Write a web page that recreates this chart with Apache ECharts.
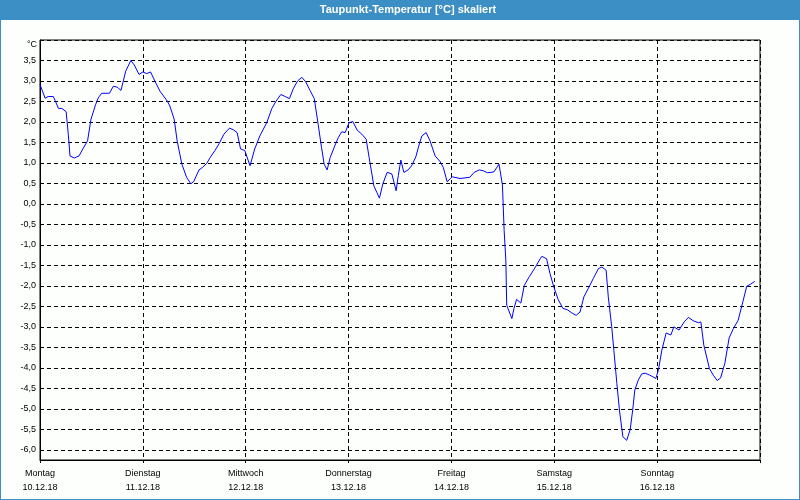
<!DOCTYPE html>
<html>
<head>
<meta charset="utf-8">
<script src="https://cdn.jsdelivr.net/npm/echarts@6/dist/echarts.min.js"></script>
<style>
html,body{margin:0;padding:0;background:#fff;}
#chart{width:800px;height:500px;}
</style>
</head>
<body>
<div id="chart"></div>
<script>
const chartTitle = 'Taupunkt-Temperatur [°C] skaliert';
const yUnit = '°C';
const weekdays = ['Montag','Dienstag','Mittwoch','Donnerstag','Freitag','Samstag','Sonntag'];
const dates = ['10.12.18','11.12.18','12.12.18','13.12.18','14.12.18','15.12.18','16.12.18'];
// hours since 10.12.18 00:00
const hours = [0,1.2,1.9,3.1,3.5,4.3,5.1,6.1,6.6,7.0,8.0,9.1,10.1,11.1,11.9,13.0,13.6,14.4,16.2,17.1,18.0,18.9,20.0,21.2,22.0,23.1,24.0,24.9,25.8,26.8,28.0,29.7,30.3,31.3,32.0,33.1,34.2,35.2,35.9,37.1,37.9,38.9,39.7,40.8,41.8,42.9,44.2,45.1,46.0,46.8,47.8,49.0,50.1,51.3,52.9,54.1,55.1,56.2,57.2,58.2,59.1,60.1,61.1,62.0,63.0,64.0,64.9,65.7,66.3,67.0,67.7,68.8,69.6,70.4,71.2,72.1,73.0,74.0,75.1,76.1,76.8,77.9,78.6,79.2,80.0,81.0,82.1,83.1,83.6,84.2,84.9,85.9,86.7,87.7,88.5,89.1,90.1,91.0,92.2,93.3,94.1,95.0,95.7,96.2,98.0,100.3,101.3,102.5,103.4,104.4,105.9,107.1,107.9,108.3,108.7,108.9,110.1,110.6,111.2,112.2,113.0,114.2,115.5,116.7,117.1,118.2,119.0,119.9,120.9,122.0,123.0,124.1,125.1,126.0,126.9,127.9,129.1,130.3,131.1,132.1,132.6,133.4,133.9,134.6,135.2,136.0,136.9,137.7,138.3,138.8,139.6,140.4,141.2,142.3,143.7,144.3,145.1,146.1,147.2,147.9,149.1,150.3,151.3,152.4,153.6,154.2,154.9,156.2,157.1,158.0,158.8,159.8,160.8,161.8,162.9,164.0,164.9,165.8,166.8];
const dewPoint = [2.91,2.58,2.62,2.62,2.53,2.33,2.33,2.25,1.70,1.17,1.12,1.17,1.36,1.54,2.07,2.43,2.59,2.70,2.70,2.87,2.85,2.77,3.24,3.50,3.39,3.16,3.22,3.18,3.22,3.00,2.75,2.51,2.39,2.07,1.54,0.97,0.65,0.49,0.55,0.83,0.89,0.99,1.13,1.30,1.47,1.70,1.85,1.81,1.74,1.34,1.30,0.93,1.34,1.66,1.98,2.33,2.51,2.67,2.62,2.57,2.81,3.00,3.09,2.98,2.77,2.57,1.94,1.37,0.97,0.83,1.13,1.42,1.62,1.76,1.74,1.98,2.01,1.80,1.70,1.58,1.13,0.44,0.28,0.14,0.49,0.77,0.73,0.32,0.69,1.07,0.77,0.83,0.93,1.15,1.46,1.66,1.74,1.54,1.17,1.04,0.89,0.54,0.61,0.66,0.62,0.65,0.77,0.83,0.81,0.76,0.78,0.97,0.46,-0.65,-1.38,-2.47,-2.80,-2.55,-2.33,-2.42,-1.99,-1.77,-1.56,-1.34,-1.28,-1.34,-1.70,-2.03,-2.33,-2.55,-2.58,-2.66,-2.72,-2.64,-2.27,-2.07,-1.82,-1.58,-1.54,-1.62,-2.27,-3.00,-3.57,-4.38,-5.03,-5.68,-5.77,-5.51,-5.03,-4.54,-4.30,-4.15,-4.13,-4.18,-4.26,-4.05,-3.57,-3.15,-3.20,-3.00,-3.08,-2.88,-2.77,-2.85,-2.90,-2.88,-3.45,-4.02,-4.18,-4.31,-4.25,-3.89,-3.27,-3.04,-2.84,-2.39,-2.01,-1.96,-1.89];
const yMin = -6.25, yMax = 4.0, yLabelMin = -6.0, yLabelMax = 3.5;

const seriesData = hours.map((h, i) => [h, dewPoint[i]]);
const font = 'Liberation Sans, Arial, sans-serif';

const chart = echarts.init(document.getElementById('chart'), null, {renderer: 'canvas'});
chart.setOption({
  animation: false,
  backgroundColor: '#fdfffd',
  graphic: [
    {type: 'rect', shape: {x: 0, y: 0, width: 800, height: 20}, style: {fill: '#3c8fc4'}, z: 0},
    {type: 'rect', shape: {x: 0, y: 0, width: 800, height: 500}, style: {fill: 'none', stroke: '#3c8fc4', lineWidth: 2}, z: 0},
    {type: 'text', x: 408, y: 10, style: {text: chartTitle, fill: '#ffffff', font: 'bold 11px ' + font, textAlign: 'center', textVerticalAlign: 'middle'}, z: 1},
    {type: 'text', x: 37, y: 45, style: {text: yUnit, fill: '#000', font: '9px ' + font, textAlign: 'right', textVerticalAlign: 'middle'}, z: 1}
  ],
  grid: {left: 40, right: 40, top: 40, bottom: 40, show: true, borderColor: '#000', borderWidth: 1, backgroundColor: 'transparent'},
  xAxis: {
    type: 'value', min: 0, max: 168, interval: 24,
    axisLine: {show: true, onZero: false, lineStyle: {color: '#000', width: 1}},
    axisTick: {show: true, length: 3, lineStyle: {color: '#000'}},
    axisLabel: {
      margin: 7, color: '#000', fontFamily: font, fontSize: 9, lineHeight: 14,
      formatter: v => { const i = Math.round(v / 24); return i < weekdays.length ? weekdays[i] + '\n' + dates[i] : ''; }
    },
    splitLine: {show: true, lineStyle: {color: '#000', type: [4, 3], width: 1}}
  },
  yAxis: {
    type: 'value', min: yMin, max: yMax, interval: 0.25,
    axisLine: {show: true, onZero: false, lineStyle: {color: '#000', width: 1}},
    axisTick: {show: false},
    axisLabel: {
      margin: 4, color: '#000', fontFamily: font, fontSize: 9,
      formatter: v => {
        const r = Math.round(v * 100) / 100;
        if (Math.abs(r * 2 - Math.round(r * 2)) > 1e-6 || r < yLabelMin || r > yLabelMax) return '';
        return r.toFixed(1).replace('.', ',');
      }
    },
    splitLine: {show: true, showMinLine: true, showMaxLine: true, lineStyle: {color: ['transparent', '#000'], type: [4, 3], width: 1}}
  },
  series: [{
    type: 'line', data: seriesData, showSymbol: false, smooth: false,
    lineStyle: {color: '#0000ff', width: 1}, itemStyle: {color: '#0000ff'}
  }]
});
</script>
</body>
</html>
